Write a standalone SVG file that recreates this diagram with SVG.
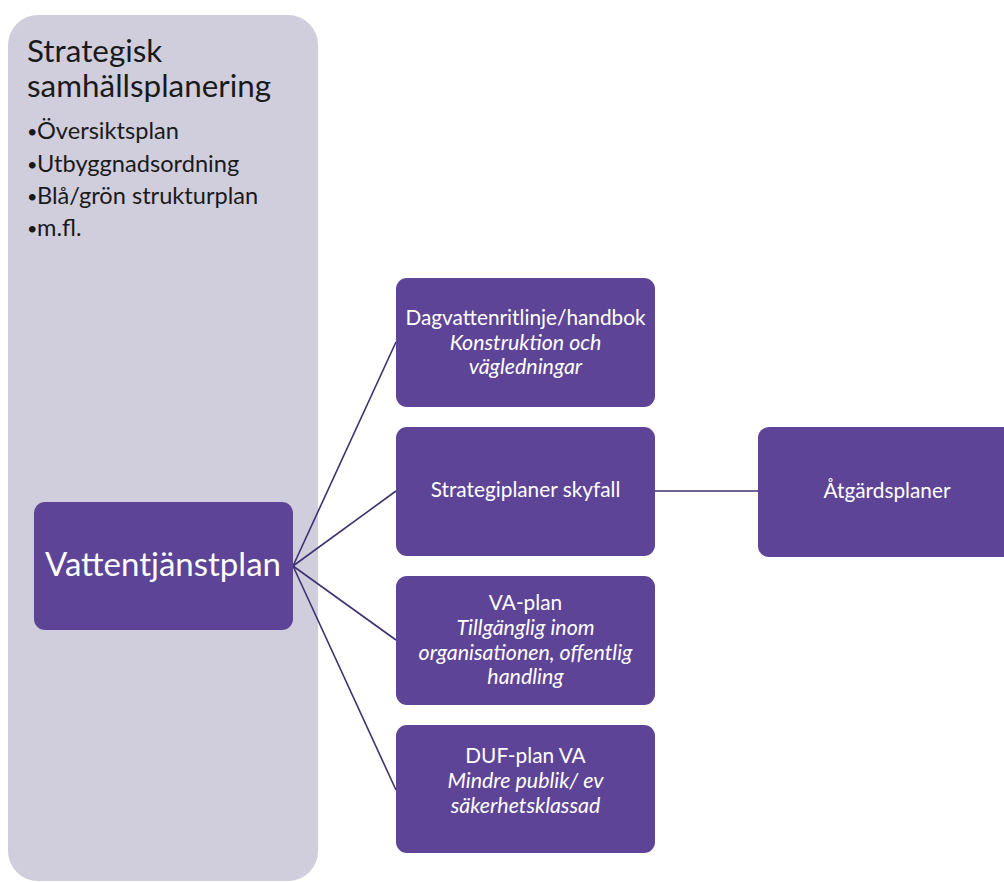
<svg xmlns="http://www.w3.org/2000/svg" width="1004" height="882" viewBox="0 0 1004 882">
<style>
.panel{fill:#d0cedd}
.box{fill:#5e4496}
.t{font-family:Lato,"Noto Sans","Liberation Sans",sans-serif;fill:#ffffff;text-anchor:middle;font-size:20.8px}
.big{font-size:33px}
.i{font-style:italic;font-size:21.4px}
.dark{font-family:Lato,"Noto Sans","Liberation Sans",sans-serif;fill:#1a1a1a}
.h{font-size:31.4px}
.b{font-size:23.6px}
.dot{font-size:18px}
.conn{stroke:#3f3170;stroke-width:1.6;fill:none}
</style>
<rect width="1004" height="882" fill="#ffffff"/>
<g id="panel">
<rect class="panel" x="8" y="15" width="310" height="866" rx="30"/>
<text class="dark h" x="27" y="62">Strategisk</text>
<text class="dark h" x="27" y="97">samhällsplanering</text>
<text class="dark dot" x="27" y="138">•</text>
<text class="dark b" x="37" y="139">Översiktsplan</text>
<text class="dark dot" x="27" y="170.5">•</text>
<text class="dark b" x="37" y="171.5">Utbyggnadsordning</text>
<text class="dark dot" x="27" y="203">•</text>
<text class="dark b" x="37" y="204">Blå/grön strukturplan</text>
<text class="dark dot" x="27" y="235">•</text>
<text class="dark b" x="37" y="236">m.fl.</text>
</g>
<g id="connectors">
<line class="conn" x1="293" y1="566" x2="396" y2="342"/>
<line class="conn" x1="293" y1="566" x2="396" y2="491"/>
<line class="conn" x1="293" y1="566" x2="396" y2="640"/>
<line class="conn" x1="293" y1="566" x2="396" y2="790"/>
<line class="conn" x1="655" y1="491" x2="758" y2="491"/>
</g>
<g id="vattentjanstplan">
<rect class="box" x="34" y="502" width="259" height="128" rx="11"/>
<text class="t big" x="163" y="576">Vattentjänstplan</text>
</g>
<g id="dagvatten">
<rect class="box" x="396" y="278" width="259" height="129" rx="11"/>
<text class="t" x="525.5" y="325">Dagvattenritlinje/handbok</text>
<text class="t i" x="525.5" y="350">Konstruktion och</text>
<text class="t i" x="525.5" y="374">vägledningar</text>
</g>
<g id="strategiplaner">
<rect class="box" x="396" y="427" width="259" height="129" rx="11"/>
<text class="t" x="525.5" y="497">Strategiplaner skyfall</text>
</g>
<g id="vaplan">
<rect class="box" x="396" y="576" width="259" height="129" rx="11"/>
<text class="t" x="525.5" y="610">VA-plan</text>
<text class="t i" x="525.5" y="635">Tillgänglig inom</text>
<text class="t i" x="525.5" y="660">organisationen, offentlig</text>
<text class="t i" x="525.5" y="684">handling</text>
</g>
<g id="dufplan">
<rect class="box" x="396" y="725" width="259" height="128" rx="11"/>
<text class="t" x="525.5" y="763">DUF-plan VA</text>
<text class="t i" x="525.5" y="788">Mindre publik/ ev</text>
<text class="t i" x="525.5" y="813">säkerhetsklassad</text>
</g>
<g id="atgardsplaner">
<rect class="box" x="758" y="427" width="259" height="130" rx="11"/>
<text class="t" x="887" y="498">Åtgärdsplaner</text>
</g>
</svg>
